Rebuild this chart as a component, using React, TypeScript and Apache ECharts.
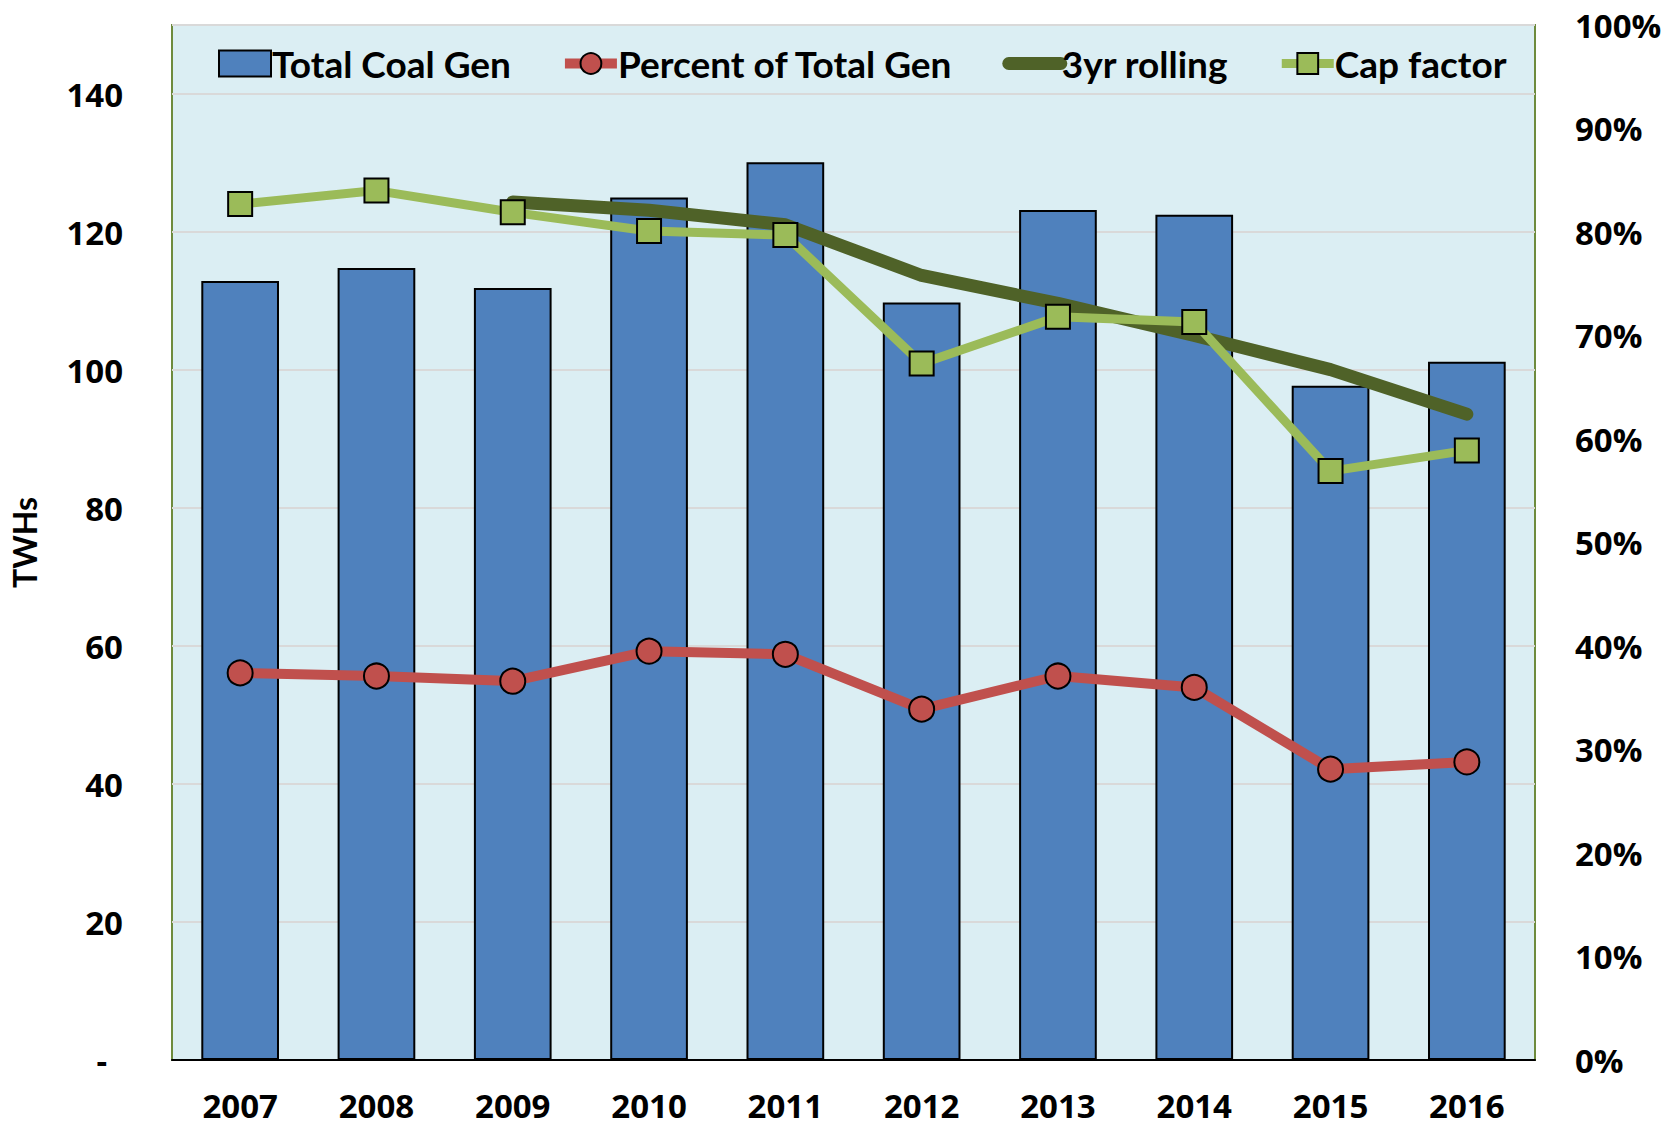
import React, { useEffect, useRef } from "react";
import * as echarts from "echarts";

const categories = ["2007", "2008", "2009", "2010", "2011", "2012", "2013", "2014", "2015", "2016"];
const coalGen = [112.9, 114.8, 111.9, 125.0, 130.1, 109.8, 123.2, 122.5, 97.7, 101.2];
const pctTotalGen = [0.374, 0.371, 0.366, 0.395, 0.392, 0.339, 0.371, 0.360, 0.281, 0.288];
const rolling3yr = [null, null, 0.829, 0.821, 0.807, 0.758, 0.731, 0.700, 0.667, 0.624];
const capFactor = [0.827, 0.840, 0.819, 0.801, 0.797, 0.673, 0.718, 0.713, 0.569, 0.589];

const tickFont = "'Open Sans', 'DejaVu Sans', sans-serif";
const narrowFont = "Lato, 'Open Sans', sans-serif";

export default function App() {
  const ref = useRef<HTMLDivElement>(null);
  useEffect(() => {
    document.body.style.margin = "0";
    const chart = echarts.init(ref.current!, null, { renderer: "svg" });
    chart.setOption({
      animation: false,
      backgroundColor: "#ffffff",
      grid: {
        left: 172,
        right: 132,
        top: 25,
        bottom: 67,
        show: true,
        backgroundColor: "#DBEEF3",
        borderColor: "#6E8B3D",
        borderWidth: 2,
      },
      legend: {
        left: 213,
        top: 40,
        itemWidth: 52,
        itemHeight: 26,
        itemGap: 49,
        textStyle: {
          fontFamily: narrowFont,
          fontWeight: "bold",
          fontSize: 37,
          color: "#000",
          padding: [0, 0, 0, -4],
        },
        data: [
          {
            name: "Total Coal Gen",
            icon: "rect",
            itemStyle: { color: "#4F81BD", borderColor: "#000", borderWidth: 2 },
          },
          {
            name: "Percent of Total Gen",
            lineStyle: { color: "#C0504D", width: 10 },
            itemStyle: { color: "#C0504D", borderColor: "#000", borderWidth: 2 },
          },
          {
            name: "3yr rolling",
            lineStyle: { color: "#4F6228", width: 13, cap: "round" },
            itemStyle: { color: "rgba(0,0,0,0)", borderWidth: 0, opacity: 0 },
          },
          {
            name: "Cap factor",
            lineStyle: { color: "#9BBB59", width: 9 },
            itemStyle: { color: "#9BBB59", borderColor: "#000", borderWidth: 2 },
          },
        ],
      },
      xAxis: {
        type: "category",
        data: categories,
        axisTick: { show: false },
        axisLine: { show: true, lineStyle: { color: "#000", width: 2 } },
        axisLabel: {
          fontFamily: tickFont,
          fontWeight: "bold",
          fontSize: 33,
          color: "#000",
          margin: 29,
        },
        z: 10,
      },
      yAxis: [
        {
          type: "value",
          min: 0,
          max: 150,
          interval: 20,
          name: "TWHs",
          nameLocation: "middle",
          nameRotate: 90,
          nameGap: 132,
          nameTextStyle: {
            fontFamily: narrowFont,
            fontWeight: "bold",
            fontSize: 32,
            color: "#000",
          },
          axisLine: { show: false },
          axisTick: { show: false },
          splitLine: { show: true, lineStyle: { color: "#D9D9D9", width: 2 } },
          axisLabel: {
            fontFamily: tickFont,
            fontWeight: "bold",
            fontSize: 33,
            color: "#000",
            margin: 49,
            showMaxLabel: false,
            formatter: (v: number) => (v === 0 ? "{dash|-}" : String(v)),
            rich: {
              dash: {
                fontFamily: tickFont,
                fontWeight: "bold",
                fontSize: 33,
                color: "#000",
                padding: [0, 16, 0, 0],
              },
            },
          },
        },
        {
          type: "value",
          min: 0,
          max: 1,
          interval: 0.1,
          position: "right",
          axisLine: { show: false },
          axisTick: { show: false },
          splitLine: { show: false },
          axisLabel: {
            fontFamily: tickFont,
            fontWeight: "bold",
            fontSize: 33,
            color: "#000",
            margin: 40,
            formatter: (v: number) => Math.round(v * 100) + "%",
          },
        },
      ],
      series: [
        {
          name: "Total Coal Gen",
          type: "bar",
          data: coalGen,
          yAxisIndex: 0,
          barCategoryGap: "43%",
          itemStyle: { color: "#4F81BD", borderColor: "#000", borderWidth: 2 },
        },
        {
          name: "Percent of Total Gen",
          type: "line",
          data: pctTotalGen,
          yAxisIndex: 1,
          symbol: "circle",
          symbolSize: 25,
          lineStyle: { color: "#C0504D", width: 10 },
          itemStyle: { color: "#C0504D", borderColor: "#000", borderWidth: 2 },
        },
        {
          name: "3yr rolling",
          type: "line",
          data: rolling3yr,
          yAxisIndex: 1,
          symbol: "none",
          lineStyle: { color: "#4F6228", width: 13, cap: "round", join: "round" },
          itemStyle: { color: "#4F6228" },
        },
        {
          name: "Cap factor",
          type: "line",
          data: capFactor,
          yAxisIndex: 1,
          symbol: "rect",
          symbolSize: 24,
          lineStyle: { color: "#9BBB59", width: 9 },
          itemStyle: { color: "#9BBB59", borderColor: "#000", borderWidth: 2 },
        },
      ],
    });
    return () => chart.dispose();
  }, []);
  return <div ref={ref} style={{ width: 1667, height: 1127 }} />;
}
